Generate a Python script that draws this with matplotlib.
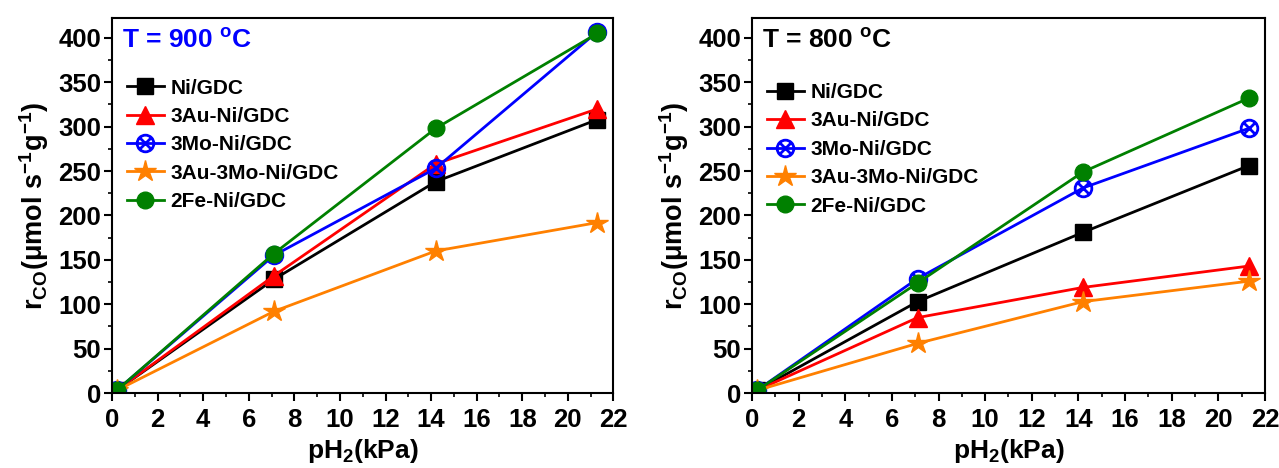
import matplotlib.pyplot as plt
import numpy as np
from matplotlib.path import Path
from matplotlib.ticker import MultipleLocator

plt.rcParams['font.family'] = ['Liberation Sans', 'DejaVu Sans']
plt.rcParams['font.weight'] = 'bold'

# pH2 values (kPa)
ph2 = [0.2, 7.1, 14.2, 21.3]
labels = ["Ni/GDC", "3Au-Ni/GDC", "3Mo-Ni/GDC", "3Au-3Mo-Ni/GDC", "2Fe-Ni/GDC"]

# r_CO at 900 C
r900_ni = [3, 128, 238, 308]
r900_au = [3, 132, 258, 320]
r900_mo = [3, 155, 253, 407]
r900_aumo = [3, 92, 160, 192]
r900_fe = [3, 157, 298, 405]

# r_CO at 800 C
r800_ni = [3, 103, 181, 256]
r800_au = [3, 85, 119, 143]
r800_mo = [3, 129, 231, 298]
r800_aumo = [3, 56, 103, 126]
r800_fe = [3, 124, 249, 332]

colors = ["black", "#ff0000", "#0000ff", "#ff8000", "#008000"]

# circle with a cross inside, for 3Mo-Ni/GDC
circ = Path.unit_circle()
d = 0.7071
cross = Path([(-d, -d), (d, d), (-d, d), (d, -d)],
             [Path.MOVETO, Path.LINETO, Path.MOVETO, Path.LINETO])
otimes = Path.make_compound_path(circ, cross)

styles = [
    dict(marker="s", ms=11),
    dict(marker="^", ms=13),
    dict(marker=otimes, ms=12, mfc="none", mew=2),
    dict(marker="*", ms=16),
    dict(marker="o", ms=12),
]

fig = plt.figure(figsize=(12.79, 4.68), dpi=100)
ax1 = fig.add_axes([0.0876, 0.160, 0.392, 0.801])
ax2 = fig.add_axes([0.588, 0.160, 0.401, 0.801])

panels = [
    (ax1, [r900_ni, r900_au, r900_mo, r900_aumo, r900_fe],
     "T = 900 $^\\mathregular{o}$C", "#0000ff", 0.878),
    (ax2, [r800_ni, r800_au, r800_mo, r800_aumo, r800_fe],
     "T = 800 $^\\mathregular{o}$C", "black", 0.866),
]

for ax, series, title, tcol, legy in panels:
    for y, lab, c, st in zip(series, labels, colors, styles):
        ax.plot(ph2, y, color=c, lw=2, label=lab, mec=c, **st)
    ax.set_xlim(0, 22)
    ax.set_ylim(0, 422)
    ax.xaxis.set_major_locator(MultipleLocator(2))
    ax.xaxis.set_minor_locator(MultipleLocator(1))
    ax.yaxis.set_major_locator(MultipleLocator(50))
    ax.yaxis.set_minor_locator(MultipleLocator(25))
    ax.tick_params(which="major", direction="out", length=6, width=1.5,
                   labelsize=18.5, pad=2)
    ax.tick_params(axis="x", which="major", pad=5)
    ax.tick_params(which="minor", direction="out", length=3, width=1.2)
    for sp in ax.spines.values():
        sp.set_linewidth(1.5)
    ax.set_xlabel("pH$_\\mathregular{2}$(kPa)", fontsize=19, fontweight="bold", labelpad=3)
    ax.set_ylabel("r$_\\mathregular{CO}$(μmol s$^\\mathregular{-1}$g$^\\mathregular{-1}$)",
                  fontsize=19.5, fontweight="bold", labelpad=5)
    ax.text(0.02, 0.975, title, transform=ax.transAxes, color=tcol,
            fontsize=19, fontweight="bold", va="top", ha="left")
    ax.legend(loc="upper left", bbox_to_anchor=(0.0, legy), frameon=False,
              fontsize=15, handlelength=1.8, labelspacing=0.45,
              handletextpad=0.3, borderaxespad=0.3)

fig.savefig("out.png", dpi=100)
